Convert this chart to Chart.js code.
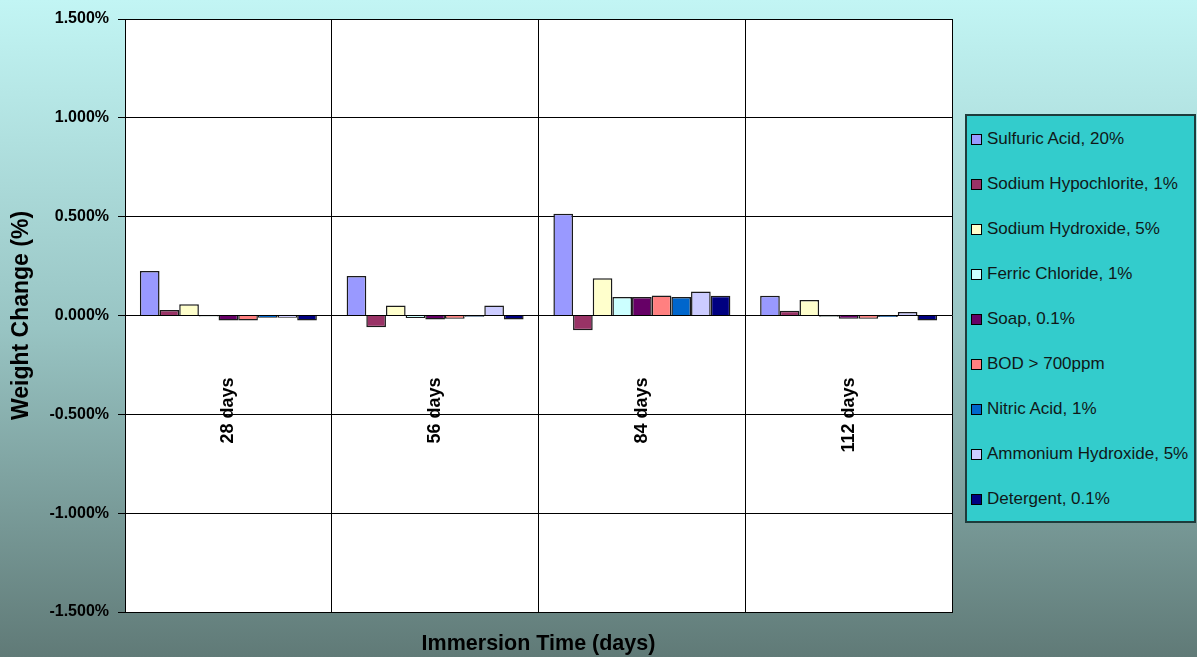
<!DOCTYPE html>
<html>
<head>
<meta charset="utf-8">
<script src="https://cdn.jsdelivr.net/npm/chart.js@4.4.1/dist/chart.umd.min.js"></script>
<style>
  html, body { margin: 0; padding: 0; }
  #wrap {
    position: relative;
    width: 1197px;
    height: 657px;
    overflow: hidden;
    background: linear-gradient(to bottom, #c2f5f4 0%, #98c4c3 50%, #607a77 100%);
    font-family: "Liberation Sans", Arial, sans-serif;
  }
  #chart { position: absolute; left: 0; top: 0; }
  #legend {
    position: absolute;
    left: 965px;
    top: 114px;
    width: 227px;
    background: #33cccc;
    border: 2px solid #1d3b3b;
  }
  .item {
    height: 45px;
    line-height: 45px;
    font-size: 17px;
    color: #101818;
    white-space: nowrap;
  }
  .swatch {
    display: inline-block;
    width: 9px;
    height: 9px;
    border: 1px solid #000;
    margin: 0 5px 0 4px;
    vertical-align: -1px;
  }
</style>
</head>
<body>
<div id="wrap">
  <canvas id="chart" width="1197" height="657"></canvas>
  <div id="legend"></div>
</div>
<script>
// categories and tick values
const categories = ['28 days', '56 days', '84 days', '112 days'];
const yTickValues = [-1.5, -1.0, -0.5, 0, 0.5, 1.0, 1.5];

// weight change (%) per series
const sulfuric = [0.225, 0.200, 0.515, 0.100];
const hypochlorite = [0.028, -0.060, -0.075, 0.024];
const hydroxide = [0.057, 0.050, 0.188, 0.079];
const ferric = [-0.005, -0.013, 0.093, -0.006];
const soap = [-0.025, -0.020, 0.093, -0.017];
const bod = [-0.025, -0.017, 0.101, -0.017];
const nitric = [-0.012, -0.006, 0.093, -0.007];
const ammonium = [-0.012, 0.050, 0.121, 0.018];
const detergent = [-0.025, -0.020, 0.100, -0.025];

const seriesNames = ['Sulfuric Acid, 20%', 'Sodium Hypochlorite, 1%', 'Sodium Hydroxide, 5%',
  'Ferric Chloride, 1%', 'Soap, 0.1%', 'BOD > 700ppm', 'Nitric Acid, 1%',
  'Ammonium Hydroxide, 5%', 'Detergent, 0.1%'];
const seriesValues = [sulfuric, hypochlorite, hydroxide, ferric, soap, bod, nitric, ammonium, detergent];
const seriesColors = ['#9999ff', '#993366', '#ffffcc', '#ccffff', '#660066',
  '#ff8080', '#0066cc', '#ccccff', '#000080'];

const FONT = '"Liberation Sans", Arial, sans-serif';

// white plot area
const plotBackground = {
  id: 'plotBackground',
  beforeDraw(chart) {
    const a = chart.chartArea;
    const ctx = chart.ctx;
    ctx.save();
    ctx.fillStyle = '#ffffff';
    ctx.fillRect(a.left, a.top, a.right - a.left, a.bottom - a.top);
    ctx.restore();
  }
};

// category labels sit under the zero line, rotated
const categoryLabels = {
  id: 'categoryLabels',
  afterDraw(chart) {
    const ctx = chart.ctx;
    const x = chart.scales.x;
    const y0 = chart.scales.y.getPixelForValue(0);
    ctx.save();
    ctx.font = 'bold 18px ' + FONT;
    ctx.fillStyle = '#000';
    ctx.textAlign = 'right';
    ctx.textBaseline = 'middle';
    categories.forEach((c, i) => {
      ctx.save();
      ctx.translate(x.getPixelForValue(i), y0 + 62);
      ctx.rotate(-Math.PI / 2);
      ctx.fillText(c, 0, 0);
      ctx.restore();
    });
    ctx.restore();
  }
};

new Chart(document.getElementById('chart'), {
  type: 'bar',
  data: {
    labels: categories,
    datasets: seriesNames.map((name, i) => ({
      label: name,
      data: seriesValues[i],
      backgroundColor: seriesColors[i],
      borderColor: '#1a1a1a',
      borderWidth: 1.5,
      categoryPercentage: 0.856,
      barPercentage: 1.0
    }))
  },
  options: {
    responsive: false,
    animation: false,
    layout: { padding: { left: 0, top: 19, right: 245, bottom: 0 } },
    plugins: {
      legend: { display: false },
      tooltip: { enabled: false }
    },
    scales: {
      x: {
        grid: { color: '#000', lineWidth: 1, offset: true, drawTicks: false },
        border: { color: '#000' },
        ticks: { display: false },
        title: {
          display: true,
          text: 'Immersion Time (days)',
          color: '#000',
          font: { family: FONT, size: 21.5, weight: 'bold' },
          padding: { top: 0, bottom: 0 }
        },
        afterFit: (scale) => { scale.height = 45; }
      },
      y: {
        min: -1.5,
        max: 1.5,
        afterBuildTicks: (scale) => { scale.ticks = yTickValues.map(v => ({ value: v })); },
        ticks: {
          color: '#000',
          padding: 9,
          font: { family: FONT, size: 16, weight: 'bold' },
          callback: (v) => v.toFixed(3) + '%'
        },
        grid: { color: '#000', lineWidth: 1, tickLength: 7 },
        border: { color: '#000' },
        title: {
          display: true,
          text: 'Weight Change (%)',
          color: '#000',
          font: { family: FONT, size: 23, weight: 'bold' },
          padding: { top: 8, bottom: 0 }
        },
        afterFit: (scale) => { scale.width = 125; }
      }
    }
  },
  plugins: [plotBackground, categoryLabels]
});

// legend box
const legend = document.getElementById('legend');
seriesNames.forEach((name, i) => {
  const row = document.createElement('div');
  row.className = 'item';
  const sw = document.createElement('span');
  sw.className = 'swatch';
  sw.style.background = seriesColors[i];
  row.appendChild(sw);
  row.appendChild(document.createTextNode(name));
  legend.appendChild(row);
});
</script>
</body>
</html>
